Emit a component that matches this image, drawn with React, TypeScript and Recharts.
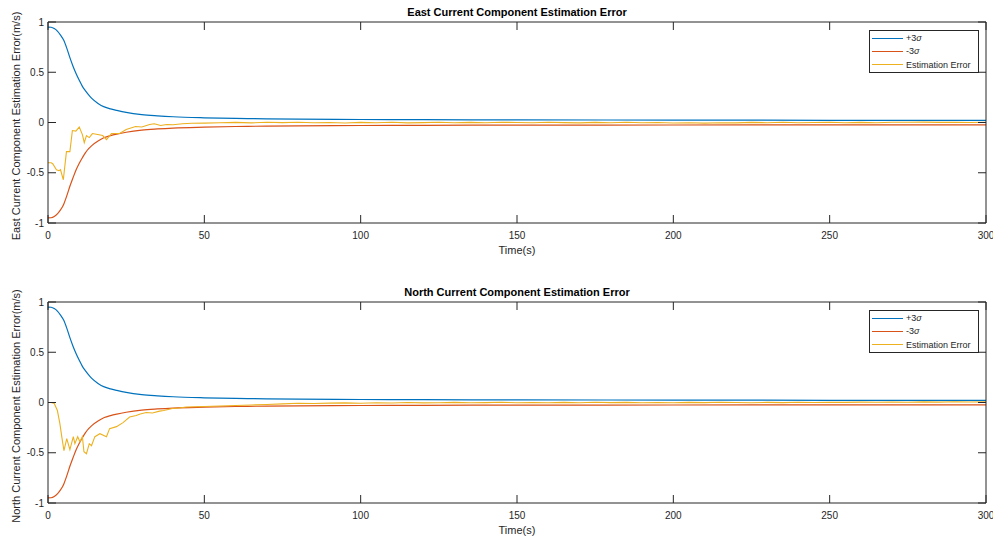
import React from "react";
import { LineChart, Line, XAxis, YAxis } from "recharts";

// time grid for the +/-3 sigma bounds
const sigmaT = [0, 1, 2, 3, 4, 5, 6, 7, 8, 9, 10, 11, 12, 13, 14, 16, 18, 20, 22, 25, 30, 35, 40, 50, 60, 70, 80, 100, 120, 150, 200, 250, 300];
const plusSigma = [0.95, 0.948, 0.935, 0.91, 0.87, 0.82, 0.74, 0.645, 0.56, 0.485, 0.42, 0.36, 0.315, 0.275, 0.24, 0.19, 0.155, 0.135, 0.12, 0.1, 0.078, 0.066, 0.057, 0.047, 0.041, 0.037, 0.034, 0.03, 0.028, 0.026, 0.024, 0.022, 0.021];
const minusSigma = [-0.95, -0.948, -0.935, -0.91, -0.87, -0.815, -0.73, -0.635, -0.55, -0.47, -0.405, -0.35, -0.3, -0.26, -0.23, -0.185, -0.15, -0.13, -0.115, -0.097, -0.076, -0.064, -0.055, -0.046, -0.04, -0.036, -0.033, -0.03, -0.028, -0.026, -0.025, -0.024, -0.023];

// estimation error, east component
const eastErrT = [0, 1, 1.5, 2.7, 3.5, 4, 4.9, 5.9, 7, 7.8, 8.9, 10, 11, 11.6, 12.3, 13.2, 14.2, 15.9, 17.5, 18.7, 20.3, 22.9, 25, 28, 30, 32.5, 34, 36, 38, 40, 43, 46,
  50, 55, 60, 65, 70, 75, 80, 85, 90, 95, 100, 105, 110, 115, 120, 125, 130, 135, 140, 145, 150, 155, 160, 165, 170, 175, 180, 185, 190, 195, 200,
  205, 210, 215, 220, 225, 230, 235, 240, 245, 250, 255, 260, 265, 270, 275, 280, 285, 290, 295, 300];
const eastErr = [-0.4, -0.4, -0.41, -0.47, -0.48, -0.47, -0.57, -0.29, -0.29, -0.08, -0.085, -0.045, -0.12, -0.2, -0.13, -0.15, -0.11, -0.12, -0.13, -0.17, -0.11, -0.11, -0.07, -0.04, -0.045, -0.02, -0.012, -0.03, -0.02, -0.022, -0.012, -0.008,
  -0.006, -0.002, 0.001, -0.004, 0.002, -0.001, 0.003, -0.003, 0.0, -0.005, 0.001, -0.002, 0.002, -0.004, -0.001, 0.002, -0.003, 0.001, -0.002, 0.003, 0.0, -0.003, 0.002, -0.001, -0.004, 0.001, -0.002, 0.002, -0.003, 0.0, -0.005,
  -0.003, -0.006, -0.002, -0.004, 0.001, -0.002, 0.002, -0.003, 0.0, 0.002, -0.002, 0.001, -0.003, 0.003, 0.002, 0.004, 0.001, 0.003, 0.0, 0.002];

// estimation error, north component
const northErrT = [0, 1, 2, 3, 3.8, 4.4, 5.1, 6, 7, 8.1, 8.6, 9.5, 10.2, 11, 11.5, 12.3, 13.2, 13.9, 15, 16.6, 18.7, 19.7, 21.9, 24, 26.1, 28.2, 29.5, 31.4, 33.4, 35.7, 37, 39.8, 42, 44.2, 47,
  50, 55, 60, 65, 70, 75, 80, 85, 90, 95, 100, 105, 110, 115, 120, 125, 130, 135, 140, 145, 150, 155, 160, 165, 170, 175, 180, 185, 190, 195, 200,
  205, 210, 215, 220, 225, 230, 235, 240, 245, 250, 255, 260, 265, 270, 275, 280, 285, 290, 295, 300];
const northErr = [0, 0, -0.01, -0.08, -0.21, -0.34, -0.48, -0.36, -0.47, -0.34, -0.41, -0.34, -0.39, -0.34, -0.49, -0.51, -0.41, -0.43, -0.34, -0.31, -0.34, -0.26, -0.24, -0.2, -0.145, -0.13, -0.115, -0.1, -0.105, -0.086, -0.08, -0.06, -0.055, -0.045, -0.042,
  -0.04, -0.035, -0.03, -0.025, -0.02, -0.014, -0.008, -0.01, -0.006, -0.004, -0.007, -0.003, -0.005, 0.0, -0.004, -0.002, 0.001, -0.003, -0.001, 0.002, -0.002, 0.0, -0.003, 0.001, -0.002, 0.002, -0.001, 0.001, -0.003, 0.0, -0.002,
  0.001, -0.001, 0.003, 0.0, -0.002, 0.001, -0.001, 0.002, 0.0, 0.003, 0.001, 0.004, 0.002, 0.005, 0.003, 0.006, 0.004, 0.007, 0.005, 0.006];

const xTicks = [0, 50, 100, 150, 200, 250, 300];
const yTicks = [-1, -0.5, 0, 0.5, 1];
const legendNames = ["+3σ", "-3σ", "Estimation Error"];

const BLUE = "#0072BD";
const RED = "#D95319";
const YELLOW = "#EDB120";
const AX = "#262626";
const FONT = "'Liberation Sans', Arial, Helvetica, sans-serif";
const TICK = 8;

const W = 993;
const H = 260;

const sigmaData = sigmaT.map((t, i) => ({ t, plus: plusSigma[i], minus: minusSigma[i] }));
const eastData = eastErrT.map((t, i) => ({ t, err: eastErr[i] }));
const northData = northErrT.map((t, i) => ({ t, err: northErr[i] }));

const BottomTick = (props: any) => {
  const { x, y, payload } = props;
  return (
    <g>
      <line x1={x} y1={y} x2={x} y2={y - TICK} stroke={AX} strokeWidth={1} />
      <text x={x} y={y + 16} textAnchor="middle" fontSize={10} fill={AX} fontFamily={FONT}>
        {payload.value}
      </text>
    </g>
  );
};

const TopTick = (props: any) => {
  const { x, y } = props;
  return <line x1={x} y1={y} x2={x} y2={y + TICK} stroke={AX} strokeWidth={1} />;
};

const LeftTick = (props: any) => {
  const { x, y, payload } = props;
  return (
    <g>
      <line x1={x} y1={y} x2={x + TICK} y2={y} stroke={AX} strokeWidth={1} />
      <text x={x - 4} y={y + 3.5} textAnchor="end" fontSize={10} fill={AX} fontFamily={FONT}>
        {payload.value}
      </text>
    </g>
  );
};

const RightTick = (props: any) => {
  const { x, y } = props;
  return <line x1={x} y1={y} x2={x - TICK} y2={y} stroke={AX} strokeWidth={1} />;
};

function LegendBox() {
  const colors = [BLUE, RED, YELLOW];
  return (
    <div
      style={{
        position: "absolute",
        left: 869,
        top: 30,
        width: 108,
        height: 41,
        border: `1px solid ${AX}`,
        background: "#fff",
        fontFamily: FONT,
        fontSize: 9,
        color: AX,
      }}
    >
      {legendNames.map((name, i) => (
        <div key={name} style={{ position: "absolute", left: 2, top: 1 + i * 13.3, height: 12, display: "flex", alignItems: "center" }}>
          <div style={{ width: 31, height: 1, background: colors[i], marginRight: 3 }} />
          <span>
            {name.includes("σ") ? (
              <>
                {name.replace("σ", "")}
                <i>σ</i>
              </>
            ) : (
              name
            )}
          </span>
        </div>
      ))}
    </div>
  );
}

function Panel({ top, title, ylabel, errData }: { top: number; title: string; ylabel: string; errData: { t: number; err: number }[] }) {
  return (
    <div style={{ position: "absolute", left: 0, top, width: W, height: H }}>
      <div
        style={{
          position: "absolute",
          left: 517,
          top: 12,
          transform: "translate(-50%, -50%)",
          fontFamily: FONT,
          fontSize: 11,
          fontWeight: "bold",
          color: "#000",
          whiteSpace: "nowrap",
        }}
      >
        {title}
      </div>
      <LineChart width={W} height={H} margin={{ top: 21, right: 6, bottom: 36, left: 0 }}>
        <XAxis
          type="number"
          dataKey="t"
          domain={[0, 300]}
          ticks={xTicks}
          interval={0}
          height={1}
          tickSize={0}
          tickMargin={0}
          tickLine={false}
          tick={<BottomTick />}
          axisLine={{ stroke: AX }}
          allowDataOverflow
        />
        <XAxis
          xAxisId="top"
          orientation="top"
          type="number"
          dataKey="t"
          domain={[0, 300]}
          ticks={xTicks}
          interval={0}
          height={1}
          tickSize={0}
          tickMargin={0}
          tickLine={false}
          tick={<TopTick />}
          axisLine={{ stroke: AX }}
          allowDataOverflow
        />
        <YAxis
          type="number"
          domain={[-1, 1]}
          ticks={yTicks}
          interval={0}
          width={48}
          tickSize={0}
          tickMargin={0}
          tickLine={false}
          tick={<LeftTick />}
          axisLine={{ stroke: AX }}
          allowDataOverflow
        />
        <YAxis
          yAxisId="right"
          orientation="right"
          type="number"
          domain={[-1, 1]}
          ticks={yTicks}
          interval={0}
          width={1}
          tickSize={0}
          tickMargin={0}
          tickLine={false}
          tick={<RightTick />}
          axisLine={{ stroke: AX }}
          allowDataOverflow
        />
        <Line data={sigmaData} dataKey="plus" name={legendNames[0]} type="monotone" stroke={BLUE} strokeWidth={1.2} dot={false} isAnimationActive={false} />
        <Line data={sigmaData} dataKey="minus" name={legendNames[1]} type="monotone" stroke={RED} strokeWidth={1.2} dot={false} isAnimationActive={false} />
        <Line data={errData} dataKey="err" name={legendNames[2]} type="linear" stroke={YELLOW} strokeWidth={1.1} dot={false} isAnimationActive={false} />
      </LineChart>
      <LegendBox />
      <div
        style={{
          position: "absolute",
          left: 517,
          top: 250,
          transform: "translate(-50%, -50%)",
          fontFamily: FONT,
          fontSize: 11,
          color: AX,
          whiteSpace: "nowrap",
        }}
      >
        Time(s)
      </div>
      <div
        style={{
          position: "absolute",
          left: 16,
          top: 126,
          transform: "translate(-50%, -50%) rotate(-90deg)",
          fontFamily: FONT,
          fontSize: 11,
          color: AX,
          whiteSpace: "nowrap",
        }}
      >
        {ylabel}
      </div>
    </div>
  );
}

export default function App() {
  return (
    <div style={{ position: "absolute", left: 0, top: 0, width: 993, height: 537, overflow: "hidden", background: "#fff" }}>
      <Panel top={0} title="East Current Component Estimation Error" ylabel="East Current Component Estimation Error(m/s)" errData={eastData} />
      <Panel top={280} title="North Current Component Estimation Error" ylabel="North Current Component Estimation Error(m/s)" errData={northData} />
    </div>
  );
}
